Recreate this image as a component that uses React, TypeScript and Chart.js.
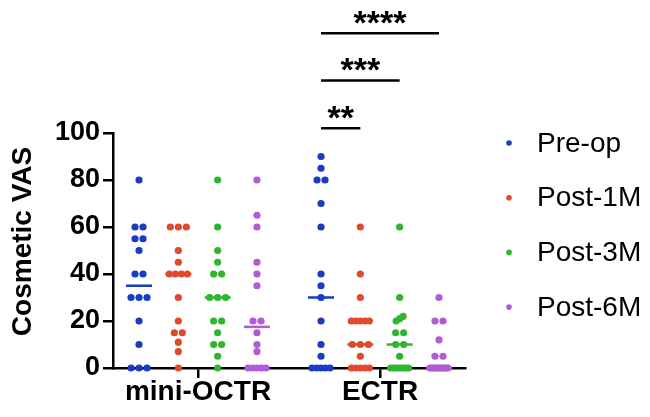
import { useEffect, useRef } from 'react';
import { Chart, registerables } from 'chart.js';

Chart.register(...registerables);

// ---------- data ----------
const groups = ['mini-OCTR', 'ECTR'];
const seriesNames = ['Pre-op', 'Post-1M', 'Post-3M', 'Post-6M'];
const seriesColors = ['#1a3bc4', '#e0492b', '#2fb52f', '#b15bd6'];
const yTickValues = [0, 20, 40, 60, 80, 100];
const yTitle = 'Cosmetic VAS';

const miniPreop = [80, 60, 60, 55, 55, 50, 40, 40, 30, 30, 30, 20, 10, 0, 0, 0];
const miniPost1M = [60, 60, 60, 50, 45, 40, 40, 40, 40, 30, 20, 15, 15, 11, 7, 0];
const miniPost3M = [80, 60, 50, 45, 40, 40, 30, 30, 30, 20, 20, 15, 10, 10, 5, 0];
const miniPost6M = [80, 65, 60, 45, 40, 35, 20, 20, 15, 10, 7, 0, 0, 0, 0, 0];

const ectrPreop = [90, 85, 80, 80, 70, 60, 40, 35, 30, 20, 10, 5, 0, 0, 0, 0, 0];
const ectrPost1M = [60, 40, 30, 20, 20, 20, 20, 20, 10, 10, 10, 5, 0, 0, 0, 0, 0];
const ectrPost3M = [60, 30, 22, 21, 20, 15, 15, 10, 10, 5, 0, 0, 0, 0, 0, 0, 0];
const ectrPost6M = [30, 20, 20, 12, 5, 5, 0, 0, 0, 0, 0, 0, 0, 0, 0, 0, 0];

const seriesValues = [
  [miniPreop, ectrPreop],
  [miniPost1M, ectrPost1M],
  [miniPost3M, ectrPost3M],
  [miniPost6M, ectrPost6M],
];

// significance comparisons within ECTR group (series index from -> to)
const sigFrom = [0, 0, 0];
const sigTo = [1, 2, 3];
const sigLabels = ['**', '***', '****'];
const sigLevels = [102, 122.3, 142.5];

// ---------- layout constants ----------
const X_MIN = 0.533;
const X_MAX = 2.467;
const PX_PER_UNIT = 182;
const SERIES_STEP = 0.216;
const MEDIAN_HALF_PX = 13;
const FONT = '"Liberation Sans", Arial, Helvetica, sans-serif';

function median(arr: number[]): number {
  const s = [...arr].sort((a, b) => a - b);
  const n = s.length;
  return n % 2 ? s[(n - 1) / 2] : (s[n / 2 - 1] + s[n / 2]) / 2;
}

function pixelOffsets(vals: number[]): number[] {
  const idx = vals.map((v, i) => i).sort((a, b) => vals[b] - vals[a]);
  const out = new Array(vals.length).fill(0);
  let i = 0;
  while (i < idx.length) {
    let j = i;
    while (j + 1 < idx.length && vals[idx[i]] - vals[idx[j + 1]] <= 2) j++;
    const k = j - i + 1;
    const identical = vals[idx[i]] === vals[idx[j]];
    if (k > 1) {
      if (identical) {
        const W = Math.min(7 + (k - 1) * 8, 25);
        const s = (W - 7) / (k - 1);
        for (let m = 0; m < k; m++) out[idx[i + m]] = (m - (k - 1) / 2) * s;
      } else {
        const s = 3.5;
        for (let m = 0; m < k; m++) out[idx[i + m]] = ((k - 1) / 2 - m) * s;
      }
    }
    i = j + 1;
  }
  return out;
}

function seriesX(groupIndex: number, seriesIndex: number): number {
  return groupIndex + 1 + (seriesIndex - 1.5) * SERIES_STEP;
}

const overlay = {
  id: 'overlay',
  afterDraw(chart: any) {
    const { ctx } = chart;
    const x = chart.scales.x;
    const y = chart.scales.y;
    ctx.save();
    ctx.fillStyle = '#000';
    // y axis title
    ctx.save();
    ctx.font = `bold 28px ${FONT}`;
    ctx.textAlign = 'center';
    ctx.textBaseline = 'middle';
    ctx.translate(23, (y.top + y.bottom) / 2 - 9);
    ctx.rotate(-Math.PI / 2);
    ctx.fillText(yTitle, 0, 0);
    ctx.restore();

    // significance brackets
    ctx.strokeStyle = '#000';
    ctx.lineWidth = 2.5;
    for (let i = 0; i < sigLabels.length; i++) {
      const x1 = x.getPixelForValue(seriesX(1, sigFrom[i]));
      const x2 = x.getPixelForValue(seriesX(1, sigTo[i]));
      const py = y.getPixelForValue(sigLevels[i]);
      ctx.beginPath();
      ctx.moveTo(x1, py);
      ctx.lineTo(x2, py);
      ctx.stroke();
      ctx.font = `bold 34px ${FONT}`;
      ctx.textAlign = 'center';
      ctx.textBaseline = 'middle';
      ctx.fillText(sigLabels[i], (x1 + x2) / 2, py - 9);
    }

    // legend
    const lx = chart.chartArea.right + 44;
    for (let i = 0; i < seriesNames.length; i++) {
      const ly = chart.chartArea.top + 10 + i * 54.7;
      ctx.fillStyle = seriesColors[i];
      ctx.beginPath();
      ctx.arc(lx, ly, 2.8, 0, Math.PI * 2);
      ctx.fill();
      ctx.fillStyle = '#000';
      ctx.font = `28px ${FONT}`;
      ctx.textAlign = 'left';
      ctx.textBaseline = 'middle';
      ctx.fillText(seriesNames[i], lx + 28, ly + 1);
    }
    ctx.restore();
  },
};

export default function App() {
  const ref = useRef<HTMLCanvasElement | null>(null);

  useEffect(() => {
    if (!ref.current) return;
    const datasets: any[] = [];
    seriesNames.forEach((name, s) => {
      const data: { x: number; y: number }[] = [];
      groups.forEach((_, g) => {
        const vals = seriesValues[s][g];
        const offs = pixelOffsets(vals);
        vals.forEach((v, i) => data.push({ x: seriesX(g, s) + offs[i] / PX_PER_UNIT, y: v }));
      });
      datasets.push({
        label: name,
        data,
        backgroundColor: seriesColors[s],
        borderWidth: 0,
        pointRadius: 3.6,
        pointHoverRadius: 3.6,
        showLine: false,
        clip: false,
        order: 2,
      });
    });
    seriesNames.forEach((name, s) => {
      groups.forEach((_, g) => {
        const m = median(seriesValues[s][g]);
        const c = seriesX(g, s);
        datasets.push({
          label: `${name} median`,
          data: [
            { x: c - MEDIAN_HALF_PX / PX_PER_UNIT, y: m },
            { x: c + MEDIAN_HALF_PX / PX_PER_UNIT, y: m },
          ],
          borderColor: seriesColors[s],
          borderWidth: 2.5,
          pointRadius: 0,
          showLine: true,
          clip: false,
          order: 1,
        });
      });
    });

    const chart = new Chart(ref.current, {
      type: 'scatter',
      data: { datasets },
      options: {
        animation: false,
        responsive: true,
        maintainAspectRatio: false,
        events: [],
        layout: { padding: { top: 133, right: 185, left: 0, bottom: 0 } },
        plugins: { legend: { display: false }, tooltip: { enabled: false } },
        scales: {
          x: {
            type: 'linear',
            min: X_MIN,
            max: X_MAX,
            afterBuildTicks: (scale: any) => {
              scale.ticks = groups.map((_, i) => ({ value: i + 1 }));
            },
            afterFit: (scale: any) => {
              scale.height = 49;
            },
            ticks: {
              callback: (v: any) => groups[Math.round(Number(v)) - 1] ?? '',
              color: '#000',
              padding: 0,
              maxRotation: 0,
              autoSkip: false,
              font: { family: FONT, size: 28, weight: 'bold', lineHeight: 1 },
            },
            grid: { drawOnChartArea: false, drawTicks: true, tickLength: 10, color: '#000', lineWidth: 2.5 },
            border: { display: true, color: '#000', width: 2.5 },
          },
          y: {
            type: 'linear',
            min: 0,
            max: 100,
            afterBuildTicks: (scale: any) => {
              scale.ticks = yTickValues.map((v) => ({ value: v }));
            },
            afterFit: (scale: any) => {
              scale.width = 113;
            },
            ticks: {
              color: '#000',
              padding: 3,
              font: { family: FONT, size: 27, weight: 'bold' },
            },
            grid: { drawOnChartArea: false, drawTicks: true, tickLength: 10, color: '#000', lineWidth: 2.5 },
            border: { display: true, color: '#000', width: 2.5 },
          },
        },
      },
      plugins: [overlay],
    });
    return () => chart.destroy();
  }, []);

  return (
    <div style={{ position: 'absolute', left: 0, top: 0, width: 650, height: 417, background: '#fff' }}>
      <canvas ref={ref} />
    </div>
  );
}
